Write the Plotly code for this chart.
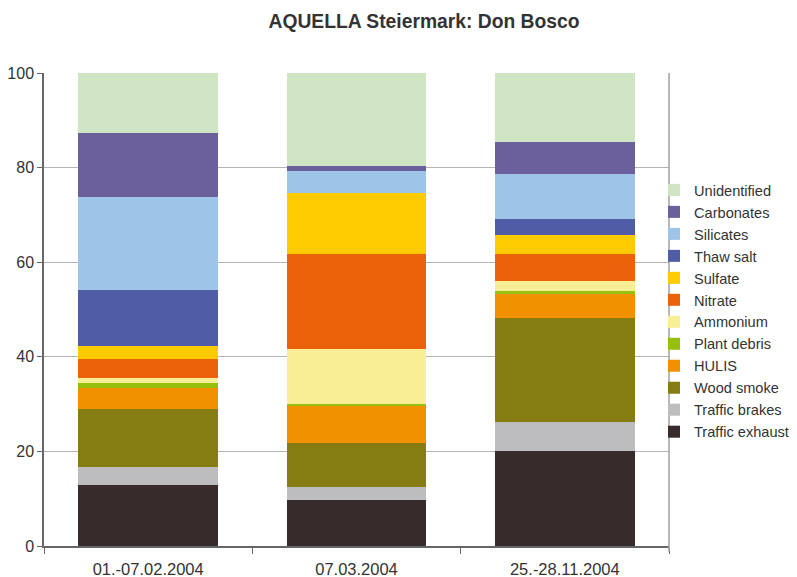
import plotly.graph_objects as go

categories = ["01.-07.02.2004", "07.03.2004", "25.-28.11.2004"]

# stacking order bottom -> top
traffic_exhaust = [12.9, 9.7, 20.1]
traffic_brakes = [3.8, 2.8, 6.1]
wood_smoke = [12.2, 9.3, 22.0]
hulis = [4.6, 7.8, 5.1]
plant_debris = [0.9, 0.4, 0.6]
ammonium = [1.1, 11.6, 2.1]
nitrate = [4.0, 20.1, 5.7]
sulfate = [2.8, 12.9, 4.0]
thaw_salt = [11.8, 0.0, 3.4]
silicates = [19.7, 4.6, 9.5]
carbonates = [13.5, 1.1, 6.8]
unidentified = [12.7, 19.7, 14.6]

series = [
    ("Traffic exhaust", traffic_exhaust, "#372b2b"),
    ("Traffic brakes", traffic_brakes, "#bdbdbf"),
    ("Wood smoke", wood_smoke, "#857d12"),
    ("HULIS", hulis, "#f29100"),
    ("Plant debris", plant_debris, "#97bf0d"),
    ("Ammonium", ammonium, "#f8ee96"),
    ("Nitrate", nitrate, "#ec620b"),
    ("Sulfate", sulfate, "#fecb00"),
    ("Thaw salt", thaw_salt, "#515ca7"),
    ("Silicates", silicates, "#9ec4e8"),
    ("Carbonates", carbonates, "#6b609b"),
    ("Unidentified", unidentified, "#cfe5c3"),
]

fig = go.Figure()
for name, vals, color in series:
    fig.add_trace(go.Bar(x=categories, y=vals, name=name,
                         marker=dict(color=color, line=dict(width=0))))

font = "Liberation Sans, Arial, sans-serif"
fig.update_layout(
    width=797, height=577,
    barmode="stack", bargap=0.33,
    paper_bgcolor="white", plot_bgcolor="white",
    margin=dict(l=44, r=128, t=73, b=31, autoexpand=False),
    font=dict(family=font, color="#333333", size=15),
    title=dict(text="<b>AQUELLA Steiermark: Don Bosco</b>",
               x=424/797, xref="container", xanchor="center",
               y=1-21/577, yref="container", yanchor="middle",
               font=dict(size=19.3, color="#333333", family=font)),
    legend=dict(traceorder="reversed", x=0.976, xanchor="left",
                y=0.497, yanchor="middle", font=dict(size=14.6, color="#333333"),
                bgcolor="rgba(0,0,0,0)", borderwidth=0),
    xaxis=dict(showline=True, linecolor="#666666", linewidth=1.5,
               ticks="outside", tickson="boundaries", ticklen=6, tickcolor="#666666",
               tickfont=dict(size=16.5, color="#333333"), automargin=False,
               ticklabelstandoff=7, showgrid=False),
    yaxis=dict(range=[0, 100], dtick=20, showline=True, linecolor="#666666", linewidth=1.5,
               ticks="outside", ticklen=5, tickcolor="#666666",
               tickfont=dict(size=16, color="#333333"), automargin=False,
               showgrid=True, gridcolor="#b4b4b4", gridwidth=1, zeroline=False),
    shapes=[dict(type="line", xref="paper", yref="paper", x0=1, x1=1, y0=-0.012, y1=1,
                 line=dict(color="#a0a0a0", width=1.5))],
)

fig.write_html("out.html")
